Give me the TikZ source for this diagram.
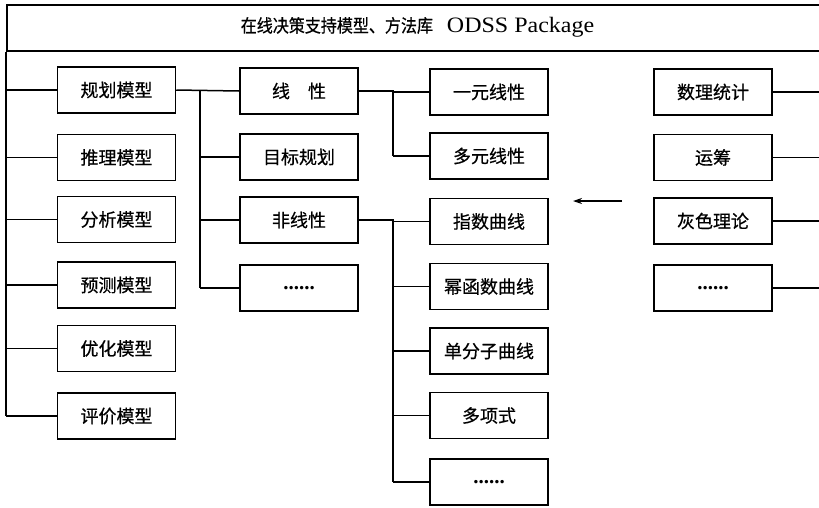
\documentclass[tikz,border=0pt]{standalone}
\usepackage{fontspec}
\setmainfont{Liberation Serif}
\newfontfamily\cjk[FakeBold=0.6]{Noto Sans CJK SC}
\usetikzlibrary{arrows.meta}
\newcommand{\dotsfill}{{\rmfamily\bfseries\fontsize{21}{21}\selectfont ......}}
\begin{document}
\begin{tikzpicture}[x=1pt,y=-1pt, line width=1.5pt,
  box/.style={draw, minimum width=118pt, minimum height=46pt, inner sep=0pt,
    font=\cjk\fontsize{18}{18}\selectfont},
  conn/.style={draw, line width=1.5pt}]
\useasboundingbox (0,0) rectangle (819,507);
% title box
\node[draw, minimum width=830pt, minimum height=46pt, inner sep=0pt, anchor=north west] (title) at (6,4) {};
\node[anchor=west, inner sep=0pt] (ttext) at (240,27)
  {\scalebox{0.89}[1]{\cjk\fontsize{18}{18}\selectfont 在线决策支持模型、方法库}\hspace{14pt}\scalebox{1.09}[1]{\fontsize{22}{22}\selectfont ODSS Package}};
% left column
\node[box] (L1) at (116.5,90) {规划模型};
\node[box] (L2) at (116.5,157.5) {推理模型};
\node[box] (L3) at (116.5,219.5) {分析模型};
\node[box] (L4) at (116.5,285) {预测模型};
\node[box] (L5) at (116.5,348.5) {优化模型};
\node[box] (L6) at (116.5,416) {评价模型};
% middle column
\node[box] (M1) at (299,91) {线\quad 性};
\node[box] (M2) at (299,157) {目标规划};
\node[box] (M3) at (299,220) {非线性};
\node[box] (M4) at (299,288) {\dotsfill};
% third column
\node[box] (T1) at (489,92) {一元线性};
\node[box] (T2) at (489,156) {多元线性};
\node[box] (T3) at (489,221.5) {指数曲线};
\node[box] (T4) at (489,286.5) {幂函数曲线};
\node[box] (T5) at (489,351) {单分子曲线};
\node[box] (T6) at (489,415.5) {多项式};
\node[box] (T7) at (489,482) {\dotsfill};
% right column
\node[box] (R1) at (713,92) {数理统计};
\node[box] (R2) at (713,157.5) {运筹};
\node[box] (R3) at (713,221) {灰色理论};
\node[box] (R4) at (713,288) {\dotsfill};
% coordinates
\coordinate (lb) at (6,416);
\coordinate (mb) at (200,288);
\coordinate (ta) at (393,156);
\coordinate (tb) at (393,482);
% left bus
\draw[conn] (title.south west) -- (lb);
\foreach \n in {L1,L2,L3,L4,L5,L6} \draw[conn] (\n.west) -- (6,0 |- \n.west);
% middle bus
\draw[conn] (L1.east) -- (M1.west);
\draw[conn] (200,0 |- L1.east) -- (mb);
\foreach \n in {M2,M3,M4} \draw[conn] (\n.west) -- (200,0 |- \n.west);
% third buses
\draw[conn] (M1.east) -- (393,0 |- M1.east) -- (ta);
\draw[conn] (393,0 |- T1.west) -- (T1.west);
\draw[conn] (ta) -- (T2.west);
\draw[conn] (M3.east) -- (393,0 |- M3.east) -- (tb);
\foreach \n in {T3,T4,T5,T6,T7} \draw[conn] (\n.west) -- (393,0 |- \n.west);
% right lines
\foreach \n in {R1,R2,R3,R4} \draw[conn] (\n.east) -- (822,0 |- \n.east);
% arrow
\coordinate (a1) at (622,201);
\coordinate (a2) at (573,201);
\draw[conn, -{Stealth[length=9pt,width=6pt]}] (a1) -- (a2);
\end{tikzpicture}
\end{document}
